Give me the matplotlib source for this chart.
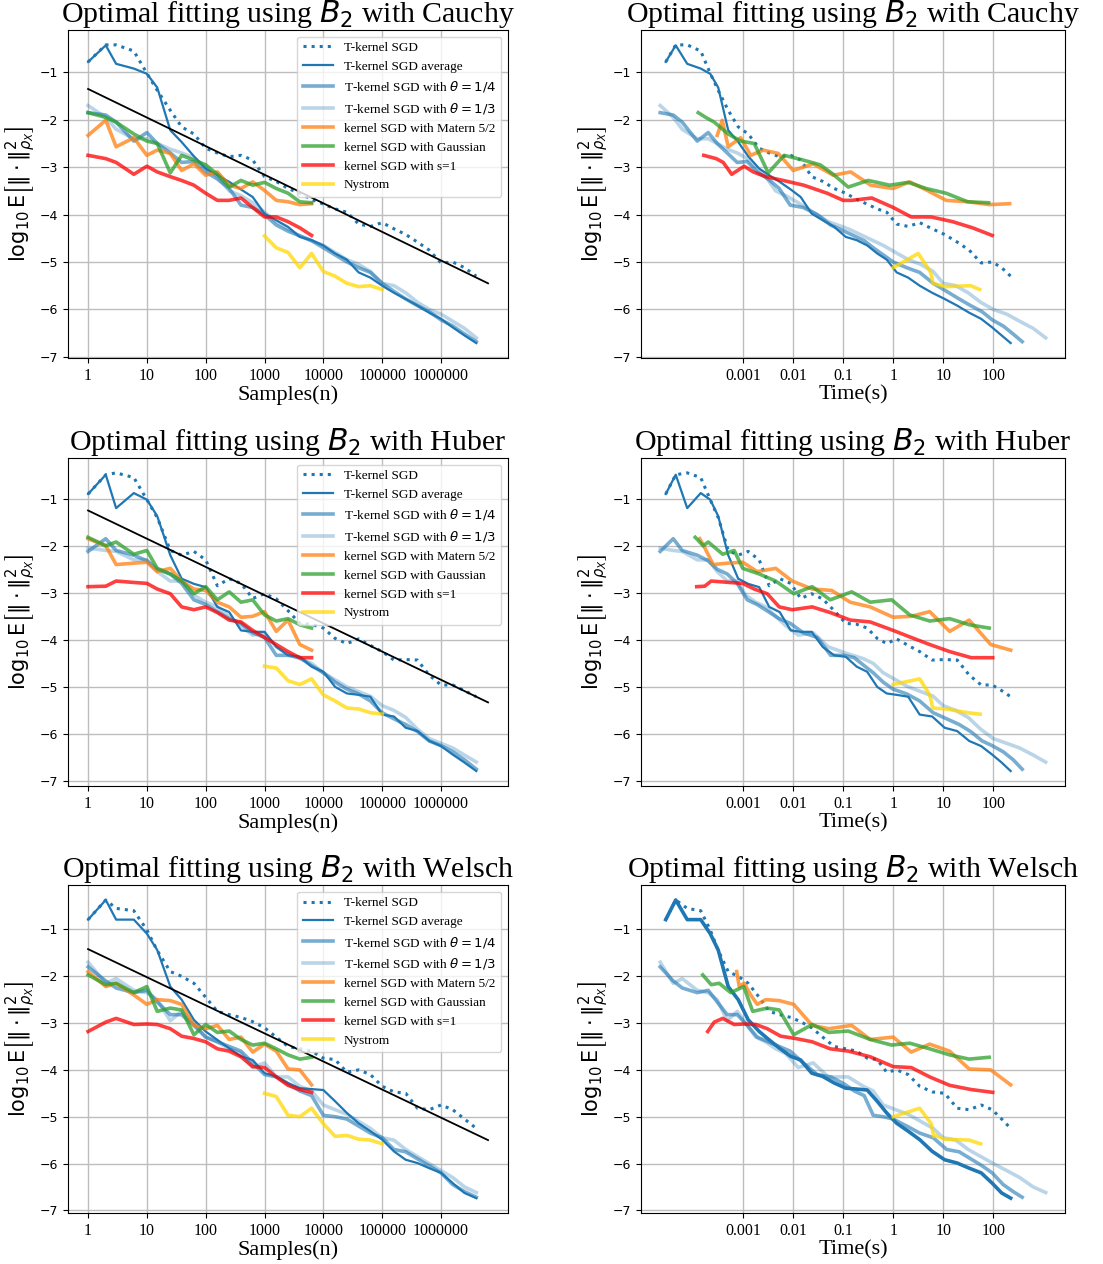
import numpy as np
import matplotlib
matplotlib.use('Agg')
import matplotlib.pyplot as plt

# sample sizes (left column) -- every fifth of a decade
n_sgd = [1, 2, 3, 6, 10, 15, 25, 39, 63, 100, 158, 251, 398, 630, 1000, 1584, 2511, 3981,
         6309, 10000, 15848, 25118, 39810, 63095, 100000, 158489, 251188, 398107, 630957,
         1000000, 1584893, 2511886, 3981071]
n_kernel = [1, 2, 3, 6, 10, 15, 25, 39, 63, 100, 158, 251, 398, 630, 1000, 1584, 2511, 3981, 6309]
n_nys = [1000, 1584, 2511, 3981, 6309, 10000, 15848, 25118, 39810, 63095, 100000]
ref_n = [1, 6309573]

# ---- Cauchy : log10 error ----
cauchy_sgd = [-0.78, -0.42, -0.42, -0.55, -1.02, -1.38, -1.8, -2.15, -2.3, -2.6, -2.7, -2.78, -2.75,
              -2.85, -3.2, -3.3, -3.45, -3.55, -3.68, -3.78, -3.88, -3.95, -4.2, -4.25, -4.17, -4.3,
              -4.42, -4.58, -4.75, -5.02, -5.0, -5.12, -5.3]
cauchy_avg = [-0.78, -0.43, -0.82, -0.92, -1.03, -1.32, -2.22, -2.47, -2.77, -3.03, -3.17, -3.31, -3.47,
              -3.63, -3.98, -4.12, -4.26, -4.47, -4.54, -4.65, -4.82, -4.95, -5.22, -5.33, -5.5, -5.65,
              -5.78, -5.92, -6.07, -6.2, -6.38, -6.55, -6.71]
cauchy_th4 = [-1.85, -1.9, -2.05, -2.45, -2.27, -2.5, -2.7, -2.9, -2.88, -3.1, -3.25, -3.45, -3.8,
              -3.85, -4.0, -4.22, -4.35, -4.45, -4.55, -4.7, -4.85, -5.0, -5.12, -5.22, -5.45, -5.62,
              -5.78, -5.92, -6.05, -6.22, -6.35, -6.52, -6.68]
cauchy_th3 = [-1.7, -1.95, -2.2, -2.4, -2.4, -2.5, -2.62, -2.7, -2.8, -3.0, -3.2, -3.5, -3.6,
              -3.75, -3.95, -4.15, -4.3, -4.45, -4.55, -4.65, -4.8, -4.95, -5.05, -5.2, -5.45, -5.5,
              -5.65, -5.85, -6.0, -6.1, -6.25, -6.4, -6.6]
cauchy_matern = [-2.33, -2.01, -2.57, -2.38, -2.75, -2.64, -2.71, -3.07, -2.93, -3.17, -3.1, -3.38,
                 -3.45, -3.31, -3.49, -3.7, -3.73, -3.79, -3.77]
cauchy_gauss = [-1.85, -1.95, -2.05, -2.3, -2.45, -2.5, -3.12, -2.75, -2.85, -2.95, -3.15, -3.42,
                -3.28, -3.38, -3.32, -3.45, -3.55, -3.73, -3.75]
cauchy_s1 = [-2.75, -2.82, -2.9, -3.15, -2.98, -3.1, -3.2, -3.28, -3.38, -3.55, -3.7, -3.7, -3.65,
             -3.85, -4.05, -4.05, -4.15, -4.28, -4.44]
cauchy_nys = [-4.45, -4.7, -4.8, -5.12, -4.82, -5.2, -5.3, -5.45, -5.52, -5.5, -5.58]
cauchy_ref = [-1.35, -5.45]

# ---- Huber ----
huber_sgd = [-0.9, -0.49, -0.45, -0.55, -1.02, -1.4, -2.1, -2.2, -2.12, -2.3, -2.85, -2.7, -2.8,
             -3.12, -3.02, -3.13, -3.38, -3.65, -3.67, -3.75, -3.97, -4.08, -3.98, -4.12, -4.25,
             -4.43, -4.42, -4.43, -4.75, -4.96, -4.96, -5.08, -5.21]
huber_avg = [-0.9, -0.49, -1.2, -0.88, -1.02, -1.37, -2.2, -2.7, -2.81, -2.88, -3.3, -3.41, -3.8,
             -3.83, -3.83, -4.15, -4.33, -4.36, -4.57, -4.68, -5.0, -5.14, -5.17, -5.21, -5.59,
             -5.63, -5.87, -5.94, -6.15, -6.26, -6.44, -6.61, -6.79]
huber_th4 = [-2.12, -1.85, -2.1, -2.2, -2.32, -2.5, -2.6, -2.8, -3.15, -3.25, -3.4, -3.55, -3.65,
             -3.85, -3.95, -4.33, -4.33, -4.38, -4.55, -4.7, -4.9, -5.05, -5.15, -5.3, -5.55,
             -5.68, -5.8, -5.95, -6.15, -6.25, -6.38, -6.55, -6.75]
huber_th3 = [-2.05, -2.1, -2.12, -2.3, -2.3, -2.55, -2.75, -2.75, -3.05, -3.2, -3.3, -3.5, -3.7,
             -3.9, -3.85, -4.15, -4.3, -4.4, -4.5, -4.7, -4.85, -5.0, -5.1, -5.2, -5.4, -5.5,
             -5.65, -5.9, -6.1, -6.2, -6.3, -6.45, -6.6]
huber_matern = [-1.85, -2.0, -2.4, -2.37, -2.35, -2.55, -2.48, -2.75, -2.92, -2.95, -3.2, -3.3,
                -3.52, -3.5, -3.4, -3.82, -3.58, -4.1, -4.22]
huber_gauss = [-1.82, -2.0, -1.92, -2.18, -2.1, -2.48, -2.6, -2.75, -3.02, -2.87, -3.15, -2.98,
               -3.2, -3.15, -3.47, -3.6, -3.55, -3.68, -3.75]
huber_s1 = [-2.87, -2.86, -2.75, -2.78, -2.8, -2.92, -3.02, -3.3, -3.36, -3.3, -3.42, -3.58, -3.62,
            -3.8, -3.95, -4.1, -4.25, -4.38, -4.38]
huber_nys = [-4.56, -4.6, -4.87, -4.95, -4.83, -5.17, -5.3, -5.45, -5.47, -5.55, -5.58]
huber_ref = [-1.25, -5.33]

# ---- Welsch ----
welsch_sgd = [-0.79, -0.37, -0.55, -0.6, -1.01, -1.45, -1.9, -2.0, -2.15, -2.45, -2.75, -2.82, -2.88,
              -2.97, -3.1, -3.3, -3.5, -3.55, -3.6, -3.75, -3.78, -4.05, -4.0, -4.1, -4.35, -4.47,
              -4.5, -4.82, -4.85, -4.75, -4.85, -5.05, -5.25]
welsch_avg = [-0.79, -0.37, -0.79, -0.79, -1.09, -1.44, -2.22, -2.5, -2.93, -3.18, -3.36, -3.54,
              -3.71, -3.79, -4.07, -4.14, -4.28, -4.39, -4.41, -4.43, -4.67, -4.92, -5.14, -5.31,
              -5.49, -5.74, -5.92, -5.99, -6.1, -6.2, -6.42, -6.63, -6.74]
welsch_th4 = [-1.8, -2.1, -2.25, -2.35, -2.3, -2.55, -2.82, -2.82, -3.05, -3.3, -3.4, -3.5, -3.6,
              -3.85, -4.1, -4.15, -4.3, -4.45, -4.55, -4.97, -5.0, -5.05, -5.2, -5.35, -5.45, -5.7,
              -5.75, -5.9, -6.05, -6.2, -6.45, -6.6, -6.72]
welsch_th3 = [-1.7, -2.15, -2.05, -2.3, -2.35, -2.5, -2.95, -2.75, -3.0, -3.3, -3.4, -3.55, -3.65,
              -3.95, -3.85, -4.15, -4.15, -4.35, -4.45, -4.75, -4.85, -4.95, -5.1, -5.25, -5.45,
              -5.5, -5.7, -5.85, -6.0, -6.15, -6.3, -6.5, -6.62]
welsch_matern = [-1.9, -2.22, -2.15, -2.4, -2.6, -2.5, -2.52, -2.6, -3.05, -3.12, -3.05, -3.35, -3.3,
                 -3.62, -3.45, -3.6, -3.98, -4.0, -4.32]
welsch_gauss = [-1.97, -2.18, -2.15, -2.35, -2.22, -2.75, -2.68, -2.72, -3.25, -3.03, -3.2, -3.17,
                -3.35, -3.47, -3.43, -3.55, -3.68, -3.77, -3.73]
welsch_s1 = [-3.18, -2.98, -2.9, -3.03, -3.02, -3.03, -3.12, -3.28, -3.33, -3.4, -3.55, -3.6, -3.72,
             -3.93, -3.95, -4.15, -4.33, -4.42, -4.48]
welsch_nys = [-4.5, -4.57, -4.97, -5.0, -4.82, -5.15, -5.42, -5.4, -5.48, -5.5, -5.58]
welsch_ref = [-1.42, -5.5]

# ---- wall clock time, log10 seconds (right column) ----
t_sgd = [-4.55, -4.35, -4.12, -3.85, -3.66, -3.5, -3.3, -3.1, -2.9, -2.68, -2.48, -2.27, -2.05,
         -1.85, -1.63, -1.41, -1.18, -0.95, -0.73, -0.52, -0.32, -0.13, 0.07, 0.3, 0.53, 0.78,
         1.03, 1.28, 1.52, 1.76, 1.98, 2.17, 2.35]
t_th4 = [-4.66, -4.4, -4.22, -3.92, -3.7, -3.52, -3.32, -3.12, -2.92, -2.72, -2.5, -2.28, -2.06,
         -1.8, -1.52, -1.25, -0.98, -0.78, -0.58, -0.4, -0.2, 0.0, 0.27, 0.53, 0.8, 1.07, 1.32,
         1.55, 1.78, 1.98, 2.2, 2.4, 2.58]
t_th3 = [-4.66, -4.4, -4.22, -3.92, -3.7, -3.52, -3.32, -3.12, -2.95, -2.75, -2.55, -2.35, -2.15,
         -1.9, -1.6, -1.3, -0.9, -0.6, -0.4, -0.2, 0.05, 0.3, 0.55, 0.8, 1.0, 1.25, 1.5, 1.75,
         2.0, 2.27, 2.53, 2.8, 3.05]
cauchy_t_matern = [-3.52, -3.42, -3.3, -3.05, -2.85, -2.6, -2.3, -2.0, -1.6, -1.2, -0.85, -0.45,
                   0.0, 0.33, 0.68, 1.06, 1.5, 1.92, 2.33]
cauchy_t_gauss = [-3.9, -3.75, -3.58, -3.3, -3.05, -2.78, -2.5, -2.18, -1.8, -1.46, -1.2, -0.9,
                  -0.5, -0.07, 0.3, 0.66, 1.06, 1.49, 1.91]
cauchy_t_s1 = [-3.79, -3.54, -3.4, -3.23, -2.98, -2.8, -2.55, -2.2, -1.79, -1.32, -1.0, -0.83,
               -0.43, 0.0, 0.36, 0.76, 1.19, 1.59, 1.98]
cauchy_t_nys = [0.0, 0.5, 0.74, 0.77, 0.79, 1.05, 1.55, 1.73]
huber_t_matern = [-3.87, -3.79, -3.6, -3.31, -3.01, -2.72, -2.35, -2.02, -1.62, -1.23, -0.86, -0.46,
                  0.0, 0.36, 0.73, 1.13, 1.52, 1.95, 2.35]
huber_t_gauss = [-3.96, -3.8, -3.7, -3.41, -3.18, -3.01, -2.68, -2.35, -1.99, -1.62, -1.26, -0.83,
                 -0.46, -0.03, 0.33, 0.73, 1.13, 1.52, 1.92]
huber_t_s1 = [-3.93, -3.77, -3.64, -3.28, -3.01, -2.78, -2.52, -2.28, -2.02, -1.62, -1.26, -0.86,
              -0.46, 0.0, 0.36, 0.73, 1.13, 1.56, 1.99]
huber_t_nys = [0.0, 0.53, 0.73, 0.76, 0.79, 1.06, 1.49, 1.74]
welsch_t_matern = [-3.13, -3.08, -2.98, -2.85, -2.72, -2.55, -2.28, -1.99, -1.62, -1.29, -0.83,
                   -0.46, 0.0, 0.36, 0.73, 1.13, 1.52, 1.95, 2.35]
welsch_t_gauss = [-3.81, -3.64, -3.48, -3.25, -2.99, -2.81, -2.52, -2.28, -1.99, -1.62, -1.29, -0.9,
                  -0.46, -0.03, 0.33, 0.73, 1.13, 1.52, 1.92]
welsch_t_s1 = [-3.71, -3.58, -3.41, -3.18, -2.98, -2.75, -2.52, -2.25, -1.95, -1.62, -1.26, -0.89,
               -0.46, 0.0, 0.36, 0.73, 1.13, 1.56, 1.99]
welsch_t_nys = [0.0, 0.53, 0.76, 0.81, 0.84, 1.03, 1.52, 1.75]

losses = ['Cauchy', 'Huber', 'Welsch']
left_ticks = ['1', '10', '100', '1000', '10000', '100000', '1000000']
right_ticks = ['0.001', '0.01', '0.1', '1', '10', '100']

serif = 'Liberation Serif'
blue = '#1f77b4'
labels = ['T-kernel SGD', 'T-kernel SGD average', r'T-kernel SGD with $\theta=1/4$',
          r'T-kernel SGD with $\theta=1/3$', 'kernel SGD with Matern 5/2',
          'kernel SGD with Gaussian', 'kernel SGD with s=1', 'Nystrom']
ylab = r'$\log_{10}\mathrm{E}\left[\|\cdot\|^2_{\rho_X}\right]$'


def draw(ax, x, y, avg_lw=1.6):
    # x, y: 8 series each, same order as labels
    ax.plot(x[0], y[0], ':', color=blue, lw=2.2, label=labels[0])
    ax.plot(x[1], y[1], '-', color=blue, lw=avg_lw, label=labels[1])
    ax.plot(x[2], y[2], color=blue, alpha=0.6, lw=2.6, label=labels[2])
    ax.plot(x[3], y[3], color=blue, alpha=0.3, lw=2.6, label=labels[3])
    ax.plot(x[4], y[4], color='#ff7f0e', alpha=0.75, lw=2.6, label=labels[4])
    ax.plot(x[5], y[5], color='#2ca02c', alpha=0.75, lw=2.6, label=labels[5])
    ax.plot(x[6], y[6], color='red', alpha=0.75, lw=2.6, label=labels[6])
    ax.plot(x[7], y[7], color='gold', alpha=0.75, lw=2.6, label=labels[7])


def finish(ax, title, xlab, ticks, ticklabels):
    ax.set_title(title, fontsize=21.5, family=serif, pad=1)
    ax.set_xlabel(xlab, fontsize=16, family=serif, labelpad=1)
    ax.set_ylabel(ylab, fontsize=15, labelpad=2)
    ax.set_xticks(ticks)
    ax.set_xticklabels(ticklabels, family=serif, fontsize=11.5)
    ax.set_yticks([-7, -6, -5, -4, -3, -2, -1])
    ax.tick_params(axis='y', labelsize=9)
    ax.grid(True, color='#bdbdbd', lw=1.0)


fig = plt.figure(figsize=(11.03, 12.64), dpi=100)
rows = [0.7168, 0.3782, 0.0403]

data = {
    'Cauchy': (cauchy_sgd, cauchy_avg, cauchy_th4, cauchy_th3, cauchy_matern, cauchy_gauss,
               cauchy_s1, cauchy_nys, cauchy_ref,
               cauchy_t_matern, cauchy_t_gauss, cauchy_t_s1, cauchy_t_nys),
    'Huber': (huber_sgd, huber_avg, huber_th4, huber_th3, huber_matern, huber_gauss,
              huber_s1, huber_nys, huber_ref,
              huber_t_matern, huber_t_gauss, huber_t_s1, huber_t_nys),
    'Welsch': (welsch_sgd, welsch_avg, welsch_th4, welsch_th3, welsch_matern, welsch_gauss,
               welsch_s1, welsch_nys, welsch_ref,
               welsch_t_matern, welsch_t_gauss, welsch_t_s1, welsch_t_nys),
}

for i, loss in enumerate(losses):
    (sgd, avg, th4, th3, mat, gau, s1, nys, ref, tm, tg, ts, tn) = data[loss]
    title = 'Optimal fitting using $B_2$ with ' + loss

    # error against number of samples
    ax = fig.add_axes([0.0617, rows[i], 0.3989, 0.2595])
    ln = np.log10(n_sgd)
    lk = np.log10(n_kernel)
    xs = [ln, ln, ln, ln, lk, lk, lk, np.log10(n_nys)]
    draw(ax, xs, [sgd, avg, th4, th3, mat, gau, s1, nys])
    ax.plot(np.log10(ref_n), ref, color='black', lw=1.3)
    finish(ax, title, 'Samples(n)', range(7), left_ticks)
    ax.legend(loc='upper right', prop={'family': serif, 'size': 9.5},
              handlelength=2.3, labelspacing=0.5, borderpad=0.4)

    # error against wall clock time
    ax = fig.add_axes([0.5811, rows[i], 0.3844, 0.2595])
    xs = [t_sgd, t_sgd, t_th4, t_th3, tm, tg, ts, tn]
    draw(ax, xs, [sgd, avg, th4, th3, mat, gau, s1, nys[3:]],
         avg_lw=2.6 if loss == 'Welsch' else 1.6)
    finish(ax, title, 'Time(s)', range(-3, 3), right_ticks)

fig.savefig('out.png', dpi=100)
